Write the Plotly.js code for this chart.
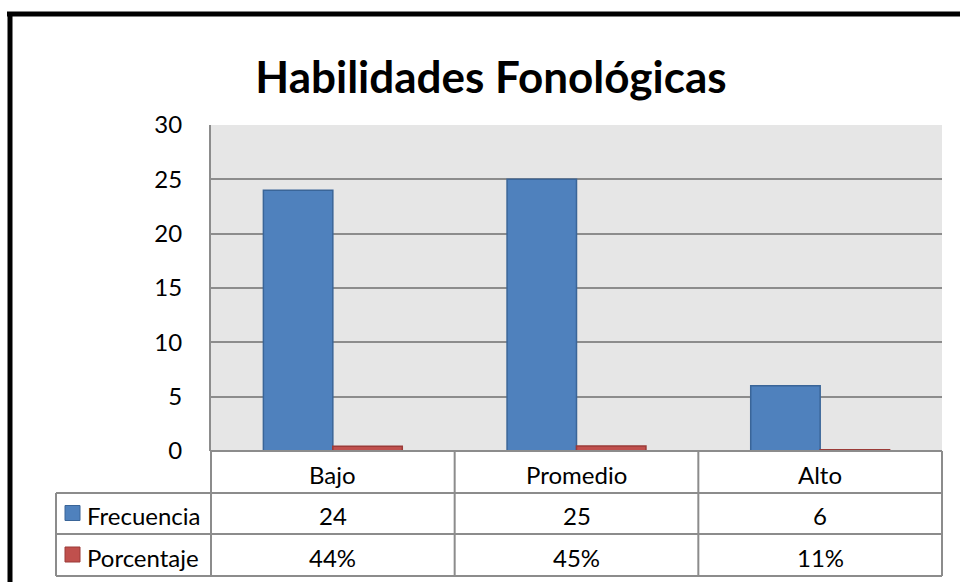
<!DOCTYPE html>
<html>
<head>
<meta charset="utf-8">
<script src="https://cdn.plot.ly/plotly-3.0.1.min.js"></script>
<style>html,body{margin:0;padding:0;background:#fff;}#chart{width:960px;height:582px;}</style>
</head>
<body>
<div id="chart"></div>
<script>
const categories = ["Bajo", "Promedio", "Alto"];
const frecuencia = [24, 25, 6];
const porcentaje = [0.44, 0.45, 0.11];
const seriesNames = ["Frecuencia", "Porcentaje"];
const yTicks = [0, 5, 10, 15, 20, 25, 30];

const W = 960, H = 582;
const px = v => v / W;          // pixel -> paper x
const py = v => 1 - v / H;      // pixel -> paper y
const plotL = 211, plotR = 942, plotT = 125, plotB = 451;
const rowY = [451, 493, 534, 576];
const legL = 56;
const FONT = "Lato, 'Open Sans', sans-serif";
const gridCol = "#8c8c8c";

const traces = [
  {type: "bar", name: seriesNames[0], x: categories, y: frecuencia,
   marker: {color: "#4F81BD", line: {color: "#3A6598", width: 1.5}}},
  {type: "bar", name: seriesNames[1], x: categories, y: porcentaje,
   marker: {color: "#C0504D", line: {color: "#9B3B38", width: 1.5}}}
];

const shapes = [];
const annotations = [];
const line = (x0, y0, x1, y1, xref, color, width) => shapes.push({
  type: "line", xref: xref || "paper", yref: "paper", x0, y0, x1, y1,
  line: {color: color || gridCol, width: width || 2}, layer: "above"});

// outer black frame (top + left)
line(px(7), py(14), 1, py(14), "paper", "#000", 5);
line(px(10), py(12), px(10), 0, "paper", "#000", 5);

// table horizontal lines
line(px(plotL), py(rowY[0]), px(plotR), py(rowY[0]));
for (let i = 1; i < rowY.length; i++) line(px(legL), py(rowY[i]), px(plotR), py(rowY[i]));
// table verticals
line(px(legL), py(rowY[1]), px(legL), py(rowY[3]));
line(px(plotL), py(rowY[0]), px(plotL), py(rowY[3]));
line(px(plotR), py(rowY[0]), px(plotR), py(rowY[3]));
for (let i = 0; i < categories.length - 1; i++) {
  shapes.push({type: "line", xref: "x", yref: "paper", x0: i + 0.5, x1: i + 0.5,
    y0: py(rowY[0]), y1: py(rowY[3]), line: {color: gridCol, width: 2}, layer: "above"});
}

const rowMid = i => py((rowY[i] + rowY[i + 1]) / 2 + 2);
const tf = {family: FONT, size: 24, color: "#000"};
const ann = (o) => annotations.push(Object.assign({showarrow: false, yanchor: "middle", font: tf}, o));
categories.forEach((c, i) => {
  ann({xref: "x", yref: "paper", x: i, y: rowMid(0), text: c});
  ann({xref: "x", yref: "paper", x: i, y: rowMid(1), text: String(frecuencia[i])});
  ann({xref: "x", yref: "paper", x: i, y: rowMid(2), text: Math.round(porcentaje[i] * 100) + "%"});
});
// legend keys in table
const keyCols = ["#4F81BD", "#C0504D"];
const keyLines = ["#3A6598", "#9B3B38"];
seriesNames.forEach((n, i) => {
  const cy = (rowY[i + 1] + rowY[i + 2]) / 2;
  shapes.push({type: "rect", xref: "paper", yref: "paper",
    x0: px(65), x1: px(80), y0: py(cy - 8), y1: py(cy + 7),
    fillcolor: keyCols[i], line: {color: keyLines[i], width: 1}, layer: "above"});
  ann({xref: "paper", yref: "paper", x: px(85), y: rowMid(i + 1), xanchor: "left", text: n});
});

const layout = {
  width: W, height: H,
  margin: {l: 0, r: 0, t: 0, b: 0},
  paper_bgcolor: "#fff",
  plot_bgcolor: "#E6E6E6",
  showlegend: false,
  barmode: "group",
  bargap: 0.43,
  bargroupgap: 0,
  title: {text: "<b>Habilidades Fonológicas</b>", x: 491 / W, xanchor: "center",
          y: py(78), yanchor: "middle", font: {family: FONT, size: 44, color: "#000"}},
  xaxis: {domain: [px(plotL), px(plotR)], range: [-0.5, 2.5], showticklabels: false,
          showgrid: false, zeroline: false, showline: false, ticks: "", fixedrange: true},
  yaxis: {domain: [py(plotB), py(plotT)], range: [0, 30], tickvals: yTicks,
          showgrid: true, gridcolor: gridCol, gridwidth: 2, zeroline: false,
          showline: true, mirror: false, linecolor: gridCol, linewidth: 2,
          ticks: "", ticklabelstandoff: 22,
          tickfont: {family: FONT, size: 24, color: "#000"}, fixedrange: true},
  shapes, annotations
};

Plotly.newPlot("chart", traces, layout, {displayModeBar: false, staticPlot: true});
</script>
</body>
</html>
